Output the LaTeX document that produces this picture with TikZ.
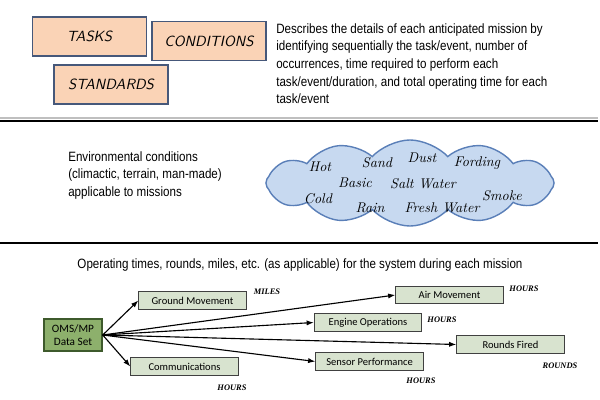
\documentclass[tikz,border=0pt]{standalone}
\usepackage{fontspec}
\usetikzlibrary{shapes.symbols, arrows.meta}

\newfontfamily\narrowsans{Liberation Sans}[FakeStretch=0.86]
\newfontfamily\labelfont{Carlito}
\newfontfamily\unitfont{Liberation Serif}

\definecolor{peach}{HTML}{FAD3B6}
\definecolor{peachline}{HTML}{46587A}
\definecolor{cloudfill}{HTML}{C7D9F0}
\definecolor{cloudline}{HTML}{5A7FB8}
\definecolor{omsfill}{HTML}{8DB06C}
\definecolor{omsline}{HTML}{3E5A2C}
\definecolor{datafill}{HTML}{D8E3CF}

\begin{document}
\begin{tikzpicture}[
    x=0.025cm, y=-0.025cm,
    % Cajas de la parte superior
    tcsbox/.style={draw=peachline, line width=1pt, fill=peach, minimum width=2.84cm, minimum height=0.98cm,
        font=\fontsize{10.5}{12}\selectfont\sffamily\itshape},
    % Texto explicativo
    infotext/.style={align=left, inner sep=0pt, anchor=north west,
        font=\narrowsans\fontsize{9.6}{12.6}\selectfont},
    % Palabras dentro de la nube
    cloudword/.style={font=\fontsize{10}{11}\selectfont\itshape},
    % Cajas de datos
    databox/.style={draw=black!75, line width=0.8pt, fill=datafill, minimum width=2.68cm, minimum height=0.44cm,
        inner sep=1pt, font=\labelfont\fontsize{7.5}{9}\selectfont},
    % Unidades
    unit/.style={font=\unitfont\bfseries\itshape\fontsize{6}{7}\selectfont},
    % Lineas separadoras
    sepline/.style={line width=1.8pt, black},
    % Flechas desde el conjunto de datos
    feed/.style={thick, -{Latex[length=1.8mm, width=1.3mm]}}
]
    \useasboundingbox (0,0) rectangle (600,400);

    % ==========================================
    % PARTE SUPERIOR: TAREAS, CONDICIONES, ESTANDARES
    % ==========================================
    \node[tcsbox] (tasks) at (89.5,36.5) {TASKS};
    \node[tcsbox] (conditions) at (209,41) {CONDITIONS};
    \node[tcsbox] (standards) at (111,84.5) {STANDARDS};

    \node[infotext] (desc) at (276,23) {Describes the details of each anticipated mission by\\
        identifying sequentially the task/event, number of\\
        occurrences, time required to perform each\\
        task/event/duration, and total operating time for each\\
        task/event};

    \draw[black!25, line width=1pt] (0,118) -- (598,118);
    \draw[sepline] (0,121) -- (598,121);

    % ==========================================
    % PARTE MEDIA: CONDICIONES AMBIENTALES
    % ==========================================
    \node[infotext] (envtext) at (68,151) {Environmental conditions\\
        (climactic, terrain, man-made)\\
        applicable to missions};

    \node[cloud, cloud puffs=12, cloud puff arc=95, cloud ignores aspect, draw=cloudline, line width=1pt, fill=cloudfill,
        minimum width=7.2cm, minimum height=2.15cm] (envcloud) at (410,183) {};

    \node[cloudword] (hot) at (320,167) {Hot};
    \node[cloudword] (sand) at (377,163) {Sand};
    \node[cloudword] (dust) at (422,158) {Dust};
    \node[cloudword] (fording) at (477,163) {Fording};
    \node[cloudword] (basic) at (355,183) {Basic};
    \node[cloudword] (saltwater) at (423,184) {Salt Water};
    \node[cloudword] (smoke) at (502,196) {Smoke};
    \node[cloudword] (cold) at (318,199) {Cold};
    \node[cloudword] (rain) at (370,208) {Rain};
    \node[cloudword] (freshwater) at (442,208) {Fresh Water};

    \draw[sepline] (0,243) -- (598,243);

    % ==========================================
    % PARTE INFERIOR: TIEMPOS DE OPERACION
    % ==========================================
    \node[infotext, anchor=center] (optext) at (300,265) {Operating times, rounds, miles, etc. (as applicable) for the system during each mission};

    \node[draw=omsline, line width=1pt, fill=omsfill, minimum width=1.45cm, minimum height=0.8cm, inner sep=1pt,
        align=center, font=\labelfont\fontsize{8}{9.5}\selectfont] (oms) at (73,335) {OMS/MP\\Data Set};

    \node[databox] (ground) at (192.5,300.5) {Ground Movement};
    \node[databox] (comms) at (184.5,366.5) {Communications};
    \node[databox] (air) at (449.5,295) {Air Movement};
    \node[databox] (engine) at (368,322.5) {Engine Operations};
    \node[databox] (rounds) at (510.5,344.5) {Rounds Fired};
    \node[databox] (sensor) at (369.5,361.5) {Sensor Performance};

    \node[unit] (milesground) at (267,292) {MILES};
    \node[unit] (hourscomms) at (232,388) {HOURS};
    \node[unit] (hoursair) at (524,289) {HOURS};
    \node[unit] (hoursengine) at (442,320) {HOURS};
    \node[unit] (roundsfired) at (560,366) {ROUNDS};
    \node[unit] (hourssensor) at (421,381) {HOURS};

    % Flechas hacia cada actividad
    \foreach \target in {ground, comms, air, engine, rounds, sensor}
        \draw[feed] (oms.east) -- (\target.west);

\end{tikzpicture}
\end{document}
